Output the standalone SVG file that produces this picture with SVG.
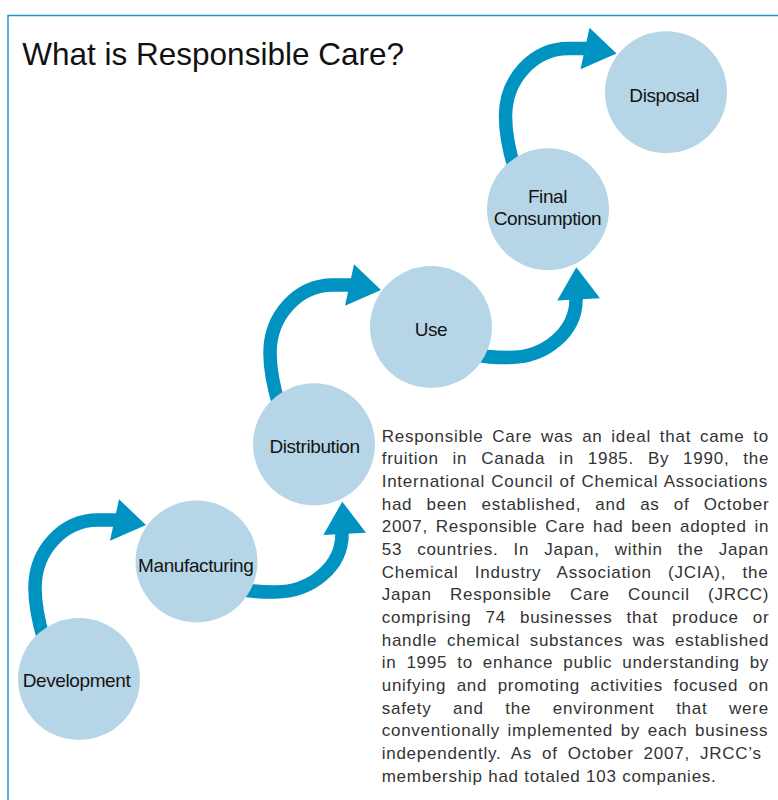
<svg xmlns="http://www.w3.org/2000/svg" xmlns:xlink="http://www.w3.org/1999/xlink" width="778" height="800" viewBox="0 0 778 800">
  <style>
    .frame { fill: none; stroke: #1b95c6; stroke-width: 1.4; }
    .title { font-family: "Liberation Sans", Arial, sans-serif; font-size: 31.5px; fill: #111; }
    .node circle { fill: #b6d6e7; }
    .node text { font-family: "Liberation Sans", Arial, sans-serif; font-size: 19px; letter-spacing: -0.4px; fill: #141414; text-anchor: middle; }
    .body { fill: none; stroke: #0093c1; stroke-width: 13.5; }
    .head { fill: #0093c1; }
    .para { font-family: "Liberation Sans", Arial, sans-serif; font-size: 17px; letter-spacing: 0.75px; fill: #333; }
  </style>
  <defs>
    <!-- curved arrow that climbs over the top-left -->
    <g id="arrowA">
      <path class="body" d="M 44 640 C 38 620 35 605 35 588 A 63 68 0 0 1 98 520 L 117 520"/>
      <polygon class="head" points="146,525 119,499.3 110,540.7"/>
    </g>
    <!-- curved arrow that swings under and up on the right -->
    <g id="arrowB">
      <path class="body" d="M 235 588 C 250 592 262 592 275 592 A 67 58 0 0 0 342 534 L 342.5 529"/>
      <polygon class="head" points="342.3,501.7 323.3,535 366,532.7"/>
    </g>
  </defs>

  <path class="frame" d="M 8 800 V 15.5 H 778"/>
  <text class="title" x="22.3" y="65">What is Responsible Care?</text>

  <g id="connectors">
    <use xlink:href="#arrowA"/>
    <use xlink:href="#arrowB"/>
    <use xlink:href="#arrowA" transform="translate(235,-235)"/>
    <use xlink:href="#arrowB" transform="translate(234,-234.5)"/>
    <use xlink:href="#arrowA" transform="translate(470.5,-471.5)"/>
  </g>

  <g id="development" class="node">
    <circle cx="79" cy="679" r="61"/>
    <text x="76.5" y="686.7">Development</text>
  </g>
  <g id="manufacturing" class="node">
    <circle cx="196.5" cy="561.5" r="61"/>
    <text x="195.7" y="571.7">Manufacturing</text>
  </g>
  <g id="distribution" class="node">
    <circle cx="314" cy="444.3" r="61"/>
    <text x="314.5" y="453.3">Distribution</text>
  </g>
  <g id="use" class="node">
    <circle cx="431" cy="327" r="61"/>
    <text x="431" y="335.7">Use</text>
  </g>
  <g id="final-consumption" class="node">
    <circle cx="548" cy="209.2" r="61"/>
    <text x="547.5" y="203.3">Final</text>
    <text x="547.5" y="225">Consumption</text>
  </g>
  <g id="disposal" class="node">
    <circle cx="666" cy="92.2" r="61"/>
    <text x="664.2" y="101.7">Disposal</text>
  </g>

  <g id="description" class="para">
    <text x="381.7" y="441.7" word-spacing="3.3">Responsible Care was an ideal that came to</text>
    <text x="381.7" y="464.4" word-spacing="8.4">fruition in Canada in 1985. By 1990, the</text>
    <text x="381.7" y="487" word-spacing="0.8">International Council of Chemical Associations</text>
    <text x="381.7" y="509.7" word-spacing="8.7">had been established, and as of October</text>
    <text x="381.7" y="532.4" word-spacing="2.3">2007, Responsible Care had been adopted in</text>
    <text x="381.7" y="555" word-spacing="9.6">53 countries. In Japan, within the Japan</text>
    <text x="381.7" y="577.7" word-spacing="10.8">Chemical Industry Association (JCIA), the</text>
    <text x="381.7" y="600.4" word-spacing="12.7">Japan Responsible Care Council (JRCC)</text>
    <text x="381.7" y="623" word-spacing="8.6">comprising 74 businesses that produce or</text>
    <text x="381.7" y="645.7" word-spacing="4.2">handle chemical substances was established</text>
    <text x="381.7" y="668.4" word-spacing="4.5">in 1995 to enhance public understanding by</text>
    <text x="381.7" y="691" word-spacing="4.9">unifying and promoting activities focused on</text>
    <text x="381.7" y="713.7" word-spacing="16.1">safety and the environment that were</text>
    <text x="381.7" y="736.4" word-spacing="2.1">conventionally implemented by each business</text>
    <text x="381.7" y="759" word-spacing="4.6">independently. As of October 2007, JRCC’s</text>
    <text x="381.7" y="781.7">membership had totaled 103 companies.</text>
  </g>
</svg>
